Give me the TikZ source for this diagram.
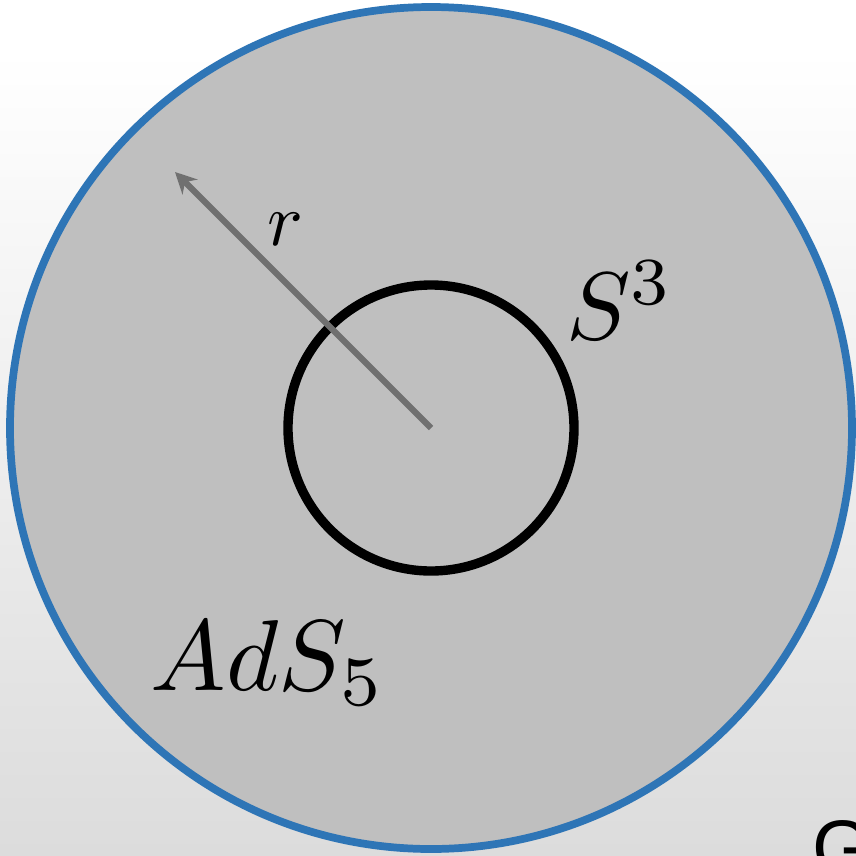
\documentclass[tikz,border=0pt]{standalone}
\usepackage{graphicx}
\usepackage{fontspec}
\newfontfamily\gfont{Liberation Sans}
\usetikzlibrary{arrows.meta}
\definecolor{bblue}{RGB}{46,117,182}
\definecolor{fillgray}{RGB}{191,191,191}
\definecolor{arrowgray}{RGB}{112,112,112}
\definecolor{bgbottom}{RGB}{220,220,220}
\tikzset{
  outerring/.style={draw=bblue, line width=6.6pt, fill=fillgray},
  innerring/.style={draw=black, line width=8pt},
  radius arrow/.style={draw=arrowgray, line width=5.2pt, -{Stealth[length=18pt,width=18pt]}},
  mathlabel/.style={inner sep=0pt, text=black}
}
\begin{document}
\begin{tikzpicture}[x=0.03cm,y=-0.03cm]
\useasboundingbox (0,0) rectangle (856,855);
\fill[white] (0,0) rectangle (856,50);
\shade[top color=white, bottom color=bgbottom] (0,50) rectangle (856,855);
\coordinate (c) at (431,428);
\path[outerring] (c) circle (421);
\path[innerring] (c) circle (143);
\coordinate (tip) at (175,172);
\draw[radius arrow] (c) -- (tip);
\node[mathlabel] (r) at (285,229) {\scalebox{6.4}{$r$}};
\node[mathlabel] (s3) at (620,300) {\scalebox{8.2}{$S^3$}};
\node[mathlabel] (ads) at (268,663) {\scalebox{8.6}{$AdS_5$}};
\begin{scope}
\clip (0,0) rectangle (856,855);
\node[anchor=north west, inner sep=0pt] (g) at (812,820) {\gfont\fontsize{66}{70}\selectfont G};
\end{scope}
\end{tikzpicture}
\end{document}
